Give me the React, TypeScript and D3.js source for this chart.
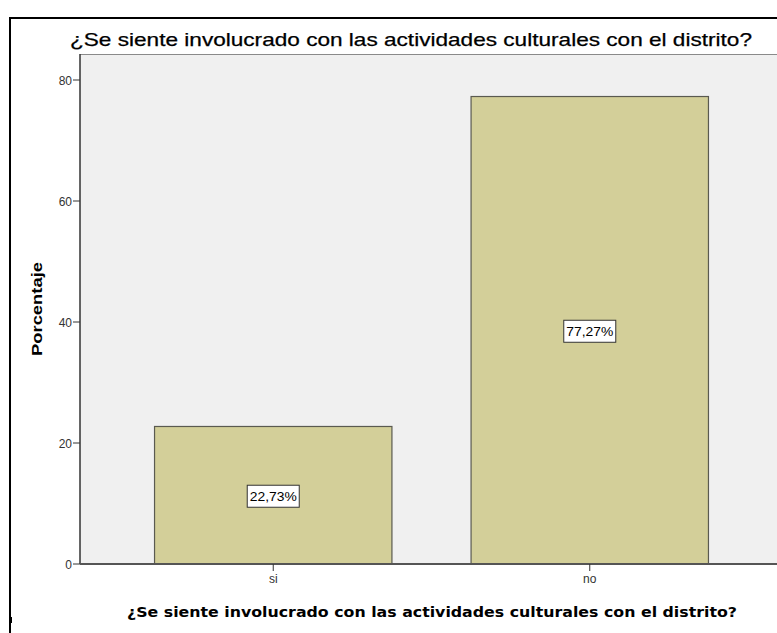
import React from "react";
import * as d3 from "d3";

const categories = ["si", "no"];
const values = [22.73, 77.27];
const valueLabels = ["22,73%", "77,27%"];
const yTicks = [0, 20, 40, 60, 80];
const title = "¿Se siente involucrado con las actividades culturales con el distrito?";
const xTitle = "¿Se siente involucrado con las actividades culturales con el distrito?";
const yTitle = "Porcentaje";

export default function App() {
  const W = 777, H = 633;
  const left = 80, top = 54, bottom = 564, right = 783;
  const y = d3.scaleLinear().domain([0, 80]).range([bottom, 80]);
  const x = d3.scaleBand<string>().domain(categories).range([left, right]).paddingInner(0.25).paddingOuter(0.2355);
  const font = "'Liberation Sans', Arial, sans-serif";
  return (
    <svg width={W} height={H} style={{ position: "absolute", left: 0, top: 0, background: "#fff" }}>
      {/* outer frame */}
      <line x1={10} y1={18} x2={W} y2={18} stroke="#000" strokeWidth={2} />
      <line x1={10} y1={17} x2={10} y2={H} stroke="#000" strokeWidth={2} />
      <rect x={10} y={617} width={2} height={6} fill="#000" />
      {/* title */}
      <text x={70} y={46} fontFamily={font} fontSize={18.5} fill="#000" stroke="#000" strokeWidth={0.25} textLength={682} lengthAdjust="spacingAndGlyphs">{title}</text>
      {/* plot background */}
      <rect x={left} y={top} width={W - left} height={bottom - top} fill="#f0f0f0" />
      <line x1={left} y1={top + 0.5} x2={W} y2={top + 0.5} stroke="#8a8a8a" strokeWidth={1} />
      {/* bars */}
      {categories.map((c, i) => (
        <rect key={c} x={x(c)!} y={y(values[i])} width={x.bandwidth()} height={y(0) - y(values[i])}
          fill="#d3cf99" stroke="#5a5a50" strokeWidth={1.2} />
      ))}
      {/* value labels */}
      {categories.map((c, i) => {
        const cx = x(c)! + x.bandwidth() / 2;
        const cy = (y(0) + y(values[i])) / 2 + 1;
        return (
          <g key={c + "l"}>
            <rect x={cx - 26} y={cy - 11} width={52} height={22} fill="#fff" stroke="#333" strokeWidth={1} />
            <text x={cx} y={cy + 4.5} textAnchor="middle" fontFamily={font} fontSize={12} fill="#000" textLength={47} lengthAdjust="spacingAndGlyphs">{valueLabels[i]}</text>
          </g>
        );
      })}
      {/* y axis */}
      <line x1={left} y1={top} x2={left} y2={bottom} stroke="#333" strokeWidth={1.5} />
      {yTicks.map((t) => (
        <g key={t}>
          <line x1={left - 7} y1={y(t)} x2={left} y2={y(t)} stroke="#333" strokeWidth={1} />
          <text x={left - 8} y={y(t) + 4.5} textAnchor="end" fontFamily={font} fontSize={12} fill="#333">{t}</text>
        </g>
      ))}
      {/* x axis */}
      <line x1={left} y1={bottom} x2={W} y2={bottom} stroke="#555" strokeWidth={2} />
      {categories.map((c) => {
        const cx = x(c)! + x.bandwidth() / 2;
        return (
          <g key={c + "t"}>
            <line x1={cx} y1={bottom} x2={cx} y2={bottom + 7} stroke="#333" strokeWidth={1} />
            <text x={cx} y={583} textAnchor="middle" fontFamily={font} fontSize={12} fill="#333">{c}</text>
          </g>
        );
      })}
      {/* axis titles */}
      <text x={127} y={617} fontFamily="'DejaVu Sans', sans-serif" fontWeight="bold" fontSize={14} fill="#000" textLength={610} lengthAdjust="spacingAndGlyphs">{xTitle}</text>
      <text transform={`translate(42, 309) rotate(-90)`} textAnchor="middle" fontFamily={font} fontWeight="bold" fontSize={15} fill="#000" textLength={94} lengthAdjust="spacingAndGlyphs">{yTitle}</text>
    </svg>
  );
}
